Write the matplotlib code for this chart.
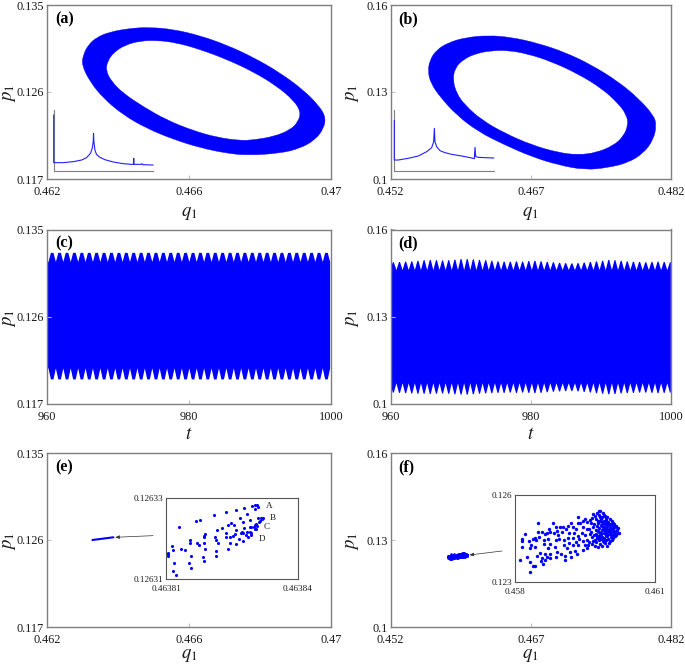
import numpy as np
import matplotlib
matplotlib.use('Agg')
import matplotlib.pyplot as plt
from matplotlib.path import Path
from matplotlib.patches import PathPatch
from matplotlib.transforms import ScaledTranslation

plt.rcParams['font.family'] = ['Liberation Serif', 'DejaVu Serif']
plt.rcParams['mathtext.fontset'] = 'stix'

# ring outlines, panel (a)
a_out_q = [.46298,.46302,.46316,.46340,.46377,.46434,.46490,.46556,.46631,.46706,.46781,.46856,.46922,.46964,.46985,.46980,.46955,.46913,.46856,.46767,.46706,.46631,.46556,.46481,.46415,.46359,.46321]
a_out_p = [.12879,.12983,.13086,.13166,.13221,.13259,.13269,.13248,.13183,.13086,.12959,.12800,.12621,.12466,.12345,.12224,.12104,.12017,.11966,.11945,.11966,.12024,.12110,.12224,.12362,.12535,.12707]
a_in_q = [.46366,.46370,.46387,.46420,.46462,.46509,.46565,.46631,.46706,.46781,.46847,.46894,.46915,.46908,.46885,.46838,.46781,.46744,.46678,.46612,.46537,.46471,.46415,.46382]
a_in_p = [.12821,.12914,.13007,.13086,.13128,.13135,.13110,.13041,.12938,.12810,.12662,.12517,.12397,.12293,.12207,.12138,.12104,.12097,.12131,.12200,.12310,.12448,.12586,.12707]

# ring outlines, panel (b)
b_out_q = [.45600,.45621,.45692,.45817,.45995,.46245,.46495,.46780,.47066,.47351,.47636,.47850,.48011,.48046,.48011,.47904,.47743,.47529,.47280,.46994,.46709,.46423,.46138,.45906,.45728,.45632]
b_out_p = [.13702,.14104,.14449,.14702,.14874,.14954,.14885,.14679,.14368,.13932,.13357,.12783,.12208,.11864,.11347,.10887,.10565,.10393,.10312,.10485,.10772,.11174,.11634,.12208,.12840,.13300]
b_in_q = [.45867,.45888,.45978,.46120,.46281,.46459,.46673,.46923,.47208,.47458,.47636,.47725,.47743,.47690,.47583,.47404,.47208,.46994,.46709,.46423,.46174,.45995,.45906]
b_in_p = [.13415,.13817,.14127,.14334,.14426,.14437,.14311,.14047,.13622,.13127,.12610,.12208,.11864,.11461,.11151,.10910,.10829,.10910,.11174,.11576,.12036,.12553,.12955]

# spectra in the corner of (a) and (b), no scale on the original
spec_a_x = [0,0,.097,.197,.281,.331,.371,.388,.398,.401,.405,.415,.431,.465,.515,.599,.699,.783,.803,.806,.809,.883,.890,.896,1.0]
spec_a_y = [.918,.137,.137,.153,.18,.219,.29,.372,.481,.617,.481,.344,.273,.224,.186,.148,.12,.109,.109,.208,.109,.109,.12,.104,.098]
spec_b_x = [0,0,.04,.141,.242,.326,.376,.396,.403,.409,.426,.46,.51,.577,.678,.779,.805,.812,.819,.846,.913,1.0]
spec_b_y = [.825,.18,.18,.208,.246,.317,.383,.481,.699,.481,.399,.333,.301,.273,.246,.213,.202,.388,.235,.224,.219,.213]

# envelope of the time series (c)
c_peak_t = [960.66,961.70,962.75,963.79,964.84,965.88,966.92,967.97,969.01,970.06,971.10,972.14,973.19,974.23,975.28,976.32,977.36,978.41,979.45,980.50,981.54,982.58,983.63,984.67,985.72,986.76,987.80,988.85,989.89,990.94,991.98,993.02,994.07,995.11,996.16,997.20,998.24,999.29]
c_notch_t = [959.62,960.14,961.18,962.23,963.27,964.32,965.36,966.40,967.45,968.49,969.54,970.58,971.62,972.67,973.71,974.76,975.80,976.84,977.89,978.93,979.98,981.02,982.06,983.11,984.15,985.20,986.24,987.28,988.33,989.37,990.42,991.46,992.50,993.55,994.59,995.64,996.68,997.72,998.77,999.81]
c_top_peak, c_top_notch = .13264, .1317
c_bot_peak, c_bot_notch = .11956, .1207

# envelope of the time series (d)
d_peak_t = [960.33,961.21,962.09,962.96,963.84,964.72,965.60,966.48,967.35,968.23,969.11,969.99,970.87,971.74,972.62,973.50,974.38,975.26,976.13,977.01,977.89,978.77,979.65,980.52,981.40,982.28,983.16,984.04,984.91,985.79,986.67,987.55,988.43,989.30,990.18,991.06,991.94,992.82,993.69,994.57,995.45,996.33,997.21,998.08,998.96,999.84]
d_notch_t = [959.89,960.77,961.65,962.53,963.40,964.28,965.16,966.04,966.92,967.79,968.67,969.55,970.43,971.31,972.18,973.06,973.94,974.82,975.70,976.57,977.45,978.33,979.21,980.09,980.96,981.84,982.72,983.60,984.48,985.35,986.23,987.11,987.99,988.87,989.74,990.62,991.50,992.38,993.26,994.13,995.01,995.89,996.77,997.65,998.52,999.40]
d_top_peak = [.1489,.1490,.1491,.1492,.1494,.1496,.1497,.1496,.1495,.1496,.1498,.1500,.1500,.1499,.1497,.1496,.1494,.1492,.1491,.1491,.1492,.1491,.1493,.1494,.1492,.1490,.1489,.1487,.1486,.1485,.1486,.1488,.1490,.1492,.1494,.1497,.1496,.1494,.1492,.1491,.1490,.1489,.1490,.1491,.1490,.1489]
d_bot_peak = [.1040,.1039,.1038,.1037,.1036,.1036,.1035,.1036,.1037,.1036,.1034,.1033,.1033,.1034,.1036,.1037,.1038,.1039,.1039,.1040,.1039,.1040,.1039,.1038,.1039,.1041,.1043,.1044,.1045,.1045,.1044,.1042,.1040,.1038,.1036,.1034,.1035,.1037,.1038,.1039,.1040,.1040,.1039,.1038,.1039,.1040]
d_top_notch, d_bot_notch = .1462, .1072

# section (e): short streak in the main box, points of the zoomed box
e_streak_q = [.46328,.46387]
e_streak_p = [.12600,.12628]
e_dq = [1.95,2.03,2.08,2.09,2.03,1.77,1.58,1.36,1.10,1.84,2.09,2.17,2.20,2.19,2.15,2.12,1.68,1.75,1.92,1.47,1.40,1.54,.78,.68,.30,2.05,2.03,2.08,2.00,1.93,1.90,2.05,2.02,1.77,1.59,1.28,1.15,.88,.86,.85,1.37,1.37,1.45,1.53,1.57,1.72,1.71,1.75,1.85,1.91,1.94,1.93,1.86,1.81,1.65,1.74,1.59,1.45,1.19,1.11,1.13,1.42,1.13,1.13,.53,.53,.70,.75,.85,.89,.34,.42,.16,.12,.04,.04,.05,.56,.84,.87,.51,.57,.18,.15,.23]
e_dp = [1.82,1.83,1.83,1.79,1.74,1.77,1.72,1.66,1.58,1.60,1.51,1.51,1.51,1.48,1.44,1.42,1.50,1.41,1.47,1.38,1.35,1.35,1.47,1.43,1.30,1.36,1.33,1.31,1.30,1.30,1.28,1.25,1.23,1.26,1.21,1.26,1.21,1.11,1.07,1.05,1.13,1.05,1.03,1.07,1.11,1.17,1.14,1.15,1.16,1.17,1.13,1.09,1.03,1.09,.99,.95,.86,.88,.90,1.04,.97,.74,.70,.58,.97,.89,.89,.84,.88,.74,.75,.72,.71,.82,.65,.61,.58,.57,.55,.44,.39,.27,.39,.21,.10]
e_labels = ['A','B','C','D']
e_label_dq = [2.27,2.36,2.23,2.11]
e_label_dp = [1.82,1.50,1.29,.99]

# section (f), offsets from 0.458 and 0.123 in units of 1e-3
f_dq = [.11,.26,.33,.32,.39,.42,.16,.16,.16,.21,.31,.34,.32,.39,.43,.46,.42,.49,.50,.57,.51,.62,.62,.54,.48,.57,.56,.61,.64,.64,.72,.69,.65,.75,.71,.75,.71,.75,.69,.74,.81,.88,.84,.91,.96,.93,1.0,.95,.88,.86,.91,.88,.98,1.07,1.07,1.04,1.06,1.02,1.14,1.19,1.09,1.16,1.13,1.16,1.11,1.18,1.21,1.29,1.32,1.25,1.31,1.34,1.36,1.39,1.26,1.34,1.25,1.31,1.38,1.36,1.24,1.45,1.5,1.55,1.46,1.54,1.43,1.5,1.46,1.54,1.5,1.46,1.54,1.57]
f_dp = [.77,.87,.33,.68,.54,.55,1.48,1.41,1.21,1.65,1.43,1.28,1.17,1.48,1.51,1.45,1.20,2.03,1.74,1.74,1.57,1.45,1.31,1.01,.90,.82,.74,.62,.76,.97,1.82,1.71,1.65,1.74,1.48,1.32,1.17,.97,.85,.82,2.03,1.92,1.68,1.78,1.89,1.63,1.74,1.48,1.45,1.22,1.05,.88,.97,.76,.9,1.28,1.45,1.89,1.94,2.03,1.82,1.68,1.51,1.34,1.17,1.05,.88,1.08,.97,1.89,1.82,2.03,2.26,2.05,1.68,1.59,1.51,1.4,1.48,1.28,1.28,2.12,2.17,2.09,1.92,1.82,1.68,1.63,1.43,1.45,1.28,1.11,1.17,1.28]
f_cl_dq = [1.58,1.61,1.59,1.62,1.60,1.64,1.66,1.63,1.67,1.65,1.68,1.71,1.69,1.73,1.70,1.72,1.68,1.74,1.76,1.73,1.75,1.77,1.74,1.76,1.79,1.78,1.80,1.77,1.81,1.79,1.78,1.82,1.80,1.83,1.82,1.85,1.83,1.86,1.84,1.87,1.85,1.88,1.86,1.89,1.87,1.90,1.88,1.91,1.89,1.92,1.90,1.93,1.91,1.94,1.92,1.95,1.93,1.96,1.94,1.97,1.95,1.98,1.96,1.99,1.97,2.00,1.98,2.01,1.99,2.02,2.00,2.03,2.01,2.04,2.03,2.05,2.04,2.06,2.05,2.07,2.08,2.09,2.07,2.10,2.09,2.11,2.12,2.11,2.13,2.14,2.15,2.14,2.17,2.18,2.17,2.20,2.23,2.21,1.84,1.87,1.90,1.93,1.96,1.99,2.02,1.81,1.78,1.75,1.83,1.86,1.80,1.94,1.90,1.97,1.72,1.85,2.06,2.12,1.91]
f_cl_dp = [1.39,1.66,1.83,2.04,2.13,1.31,1.55,1.72,1.91,2.21,1.43,1.24,1.62,1.80,2.01,2.28,2.35,1.37,1.52,1.67,1.93,2.12,2.19,2.40,2.47,1.21,1.45,1.59,1.73,1.86,2.03,2.24,2.31,2.44,1.33,1.49,1.64,1.79,1.97,2.09,2.17,2.38,1.26,1.41,1.56,1.69,1.84,1.92,2.05,2.27,2.33,1.36,1.51,1.62,1.76,1.88,2.00,2.13,2.21,1.23,1.44,1.58,1.71,1.81,1.95,2.08,2.26,1.34,1.48,1.65,1.76,1.90,2.02,2.17,1.41,1.55,1.72,1.84,1.99,2.11,1.47,1.61,1.78,1.93,2.05,1.53,1.69,1.85,2.00,1.58,1.74,1.89,1.64,1.81,1.95,1.71,1.68,1.86,1.71,1.95,1.50,1.83,1.62,1.99,1.83,1.55,1.75,1.59,2.12,2.26,2.10,2.11,2.10,2.05,1.47,1.66,1.67,1.77,1.38]

W, H = 685.0, 669.0
BLUE = '#0000ff'
GREY = '#7f7f7f'
TXT = '#1a1a1a'

fig = plt.figure(figsize=(W / 100, H / 100), dpi=100)


def box(l, t, r, b):
    return fig.add_axes([l / W, 1 - b / H, (r - l) / W, (b - t) / H])


def style(ax, xt, xl, yt, yl, xlabel, tag, label_off):
    ax.set_xlim(xt[0], xt[-1])
    ax.set_ylim(yt[0], yt[-1])
    ax.set_xticks(xt, xl)
    ax.set_yticks(yt, yl)
    ax.tick_params(direction='in', length=3, width=0.7, color='#bbbbbb', labelsize=8.8, labelcolor=TXT, pad=2)
    ax.tick_params(axis='x', pad=5)
    for s in ax.spines.values():
        s.set_color(GREY)
        s.set_linewidth(1.0)
    ax.text(0.0, 1.0, '$p_1$', fontsize=13.5, rotation=90, color=TXT, ha='center', va='center',
            transform=ax.transAxes + ScaledTranslation(-38 / 100, -88 / 100, fig.dpi_scale_trans))
    ax.text(0.5, 0.0, xlabel, fontsize=13.5, color=TXT, ha='center', va='center',
            transform=ax.transAxes + ScaledTranslation(0, -label_off / 100, fig.dpi_scale_trans))
    ax.text(0.0, 1.0, tag, fontsize=11.5, fontweight='bold', color='black', ha='left', va='center',
            transform=ax.transAxes + ScaledTranslation(8 / 100, -14 / 100, fig.dpi_scale_trans))


def closed_curve(q, p):
    pts = np.column_stack([q, p])
    mids = (pts + np.roll(pts, -1, axis=0)) / 2
    verts = [mids[-1]]
    codes = [Path.MOVETO]
    for i in range(len(pts)):
        verts += [pts[i], mids[i]]
        codes += [Path.CURVE3, Path.CURVE3]
    return verts, codes


def ring(ax, oq, op, iq, ip):
    v1, c1 = closed_curve(oq, op)
    v2, c2 = closed_curve(iq[::-1], ip[::-1])
    ax.add_patch(PathPatch(Path(v1 + v2, c1 + c2), fc=BLUE, ec=BLUE, lw=0.3))


def spectrum(l, t, r, b, x, y):
    ax = box(l, t, r, b)
    ax.patch.set_alpha(0)
    ax.plot(x, y, color='#2020ff', lw=0.8, clip_on=False, zorder=3)
    ax.set_xlim(0, 1)
    ax.set_ylim(0, 1)
    ax.set_xticks([])
    ax.set_yticks([])
    ax.spines[['top', 'right']].set_visible(False)
    ax.spines[['left', 'bottom']].set_color(GREY)
    ax.spines[['left', 'bottom']].set_linewidth(0.8)


def band(ax, pt, nt, top_p, top_n, bot_p, bot_n, w):
    pt = np.array(pt)
    nt = np.array(nt)
    top_p = np.broadcast_to(top_p, pt.shape)
    bot_p = np.broadcast_to(bot_p, pt.shape)
    t = np.concatenate([nt, pt - w, pt + w])
    up = np.concatenate([np.full(nt.shape, top_n), top_p, top_p])
    lo = np.concatenate([np.full(nt.shape, bot_n), bot_p, bot_p])
    order = np.argsort(t)
    ax.fill_between(t[order], lo[order], up[order], color=BLUE, lw=0)


def zoom_box(l, t, r, b, xt, xl, yt, yl):
    ax = box(l, t, r, b)
    ax.set_xlim(xt[0], xt[-1])
    ax.set_ylim(yt[0], yt[-1])
    ax.set_xticks(xt, xl)
    ax.set_yticks(yt, yl)
    ax.tick_params(length=0, labelsize=6.6, labelcolor=TXT, pad=2)
    ax.tick_params(axis='x', pad=4.5)
    for s in ax.spines.values():
        s.set_color('#555555')
        s.set_linewidth(0.8)
    return ax


xa = [.462, .466, .47]
ya = [.117, .126, .135]
xb = [.452, .467, .482]
yb = [.1, .13, .16]
xt = [960, 980, 1000]
xa_lab = ['0.462', '0.466', '0.47']
ya_lab = ['0.117', '0.126', '0.135']
xb_lab = ['0.452', '0.467', '0.482']
yb_lab = ['0.1', '0.13', '0.16']
xt_lab = ['960', '980', '1000']

# (a)
ax = box(47, 5, 331, 179)
ring(ax, a_out_q, a_out_p, a_in_q, a_in_p)
style(ax, xa, xa_lab, ya, ya_lab, '$q_1$', '(a)', 35)
spectrum(53.7, 110, 153, 171, spec_a_x, spec_a_y)

# (b)
ax = box(390.5, 5, 671, 179)
ring(ax, b_out_q, b_out_p, b_in_q, b_in_p)
style(ax, xb, xb_lab, yb, yb_lab, '$q_1$', '(b)', 35)
spectrum(394.3, 110, 493.7, 171, spec_b_x, spec_b_y)

# (c)
ax = box(47, 229.5, 331, 403.7)
band(ax, c_peak_t, c_notch_t, c_top_peak, c_top_notch, c_bot_peak, c_bot_notch, 0.18)
style(ax, xt, xt_lab, ya, ya_lab, '$t$', '(c)', 31)

# (d)
ax = box(390.5, 229.5, 671, 403.7)
band(ax, d_peak_t, d_notch_t, d_top_peak, d_top_notch, d_bot_peak, d_bot_notch, 0.07)
style(ax, xt, xt_lab, yb, yb_lab, '$t$', '(d)', 31)

# (e)
ax = box(47, 453, 331, 627)
ax.plot(e_streak_q, e_streak_p, color=BLUE, lw=1.5, solid_capstyle='round')
ax.annotate('', xy=(.46392, .12628), xytext=(.46499, .12645),
            arrowprops=dict(arrowstyle='-|>,head_length=0.25,head_width=0.1', color='#333333', lw=0.5, shrinkA=0, shrinkB=0))
style(ax, xa, xa_lab, ya, ya_lab, '$q_1$', '(e)', 28)
ins = zoom_box(166.3, 498.3, 297.7, 579, [.46381, .46384], ['0.46381', '0.46384'], [.12631, .12633], ['0.12631', '0.12633'])
ins.scatter(.46381 + np.array(e_dq) * 1e-5, .12631 + np.array(e_dp) * 1e-5, s=5, color=BLUE, lw=0, clip_on=False)
for lab, dq, dp in zip(e_labels, e_label_dq, e_label_dp):
    ins.text(.46381 + dq * 1e-5, .12631 + dp * 1e-5, lab, fontsize=6.6, color=TXT, ha='left', va='center')

# (f)
f_q = .458 + np.array(f_dq + f_cl_dq) * 1e-3
f_p = .123 + np.array(f_dp + f_cl_dp) * 1e-3
ax = box(390.5, 453, 671, 627)
ax.scatter(f_q, f_p, s=3.5, color=BLUE, lw=0)
ax.annotate('', xy=(.46043, .12483), xytext=(.46393, .12621),
            arrowprops=dict(arrowstyle='-|>,head_length=0.25,head_width=0.1', color='#333333', lw=0.5, shrinkA=0, shrinkB=0))
style(ax, xb, xb_lab, yb, yb_lab, '$q_1$', '(f)', 28)
ins = zoom_box(515, 495.3, 655, 582, [.458, .461], ['0.458', '0.461'], [.123, .126], ['0.123', '0.126'])
ins.scatter(f_q, f_p, s=6, color=BLUE, lw=0)

fig.savefig('out.png', dpi=100)
